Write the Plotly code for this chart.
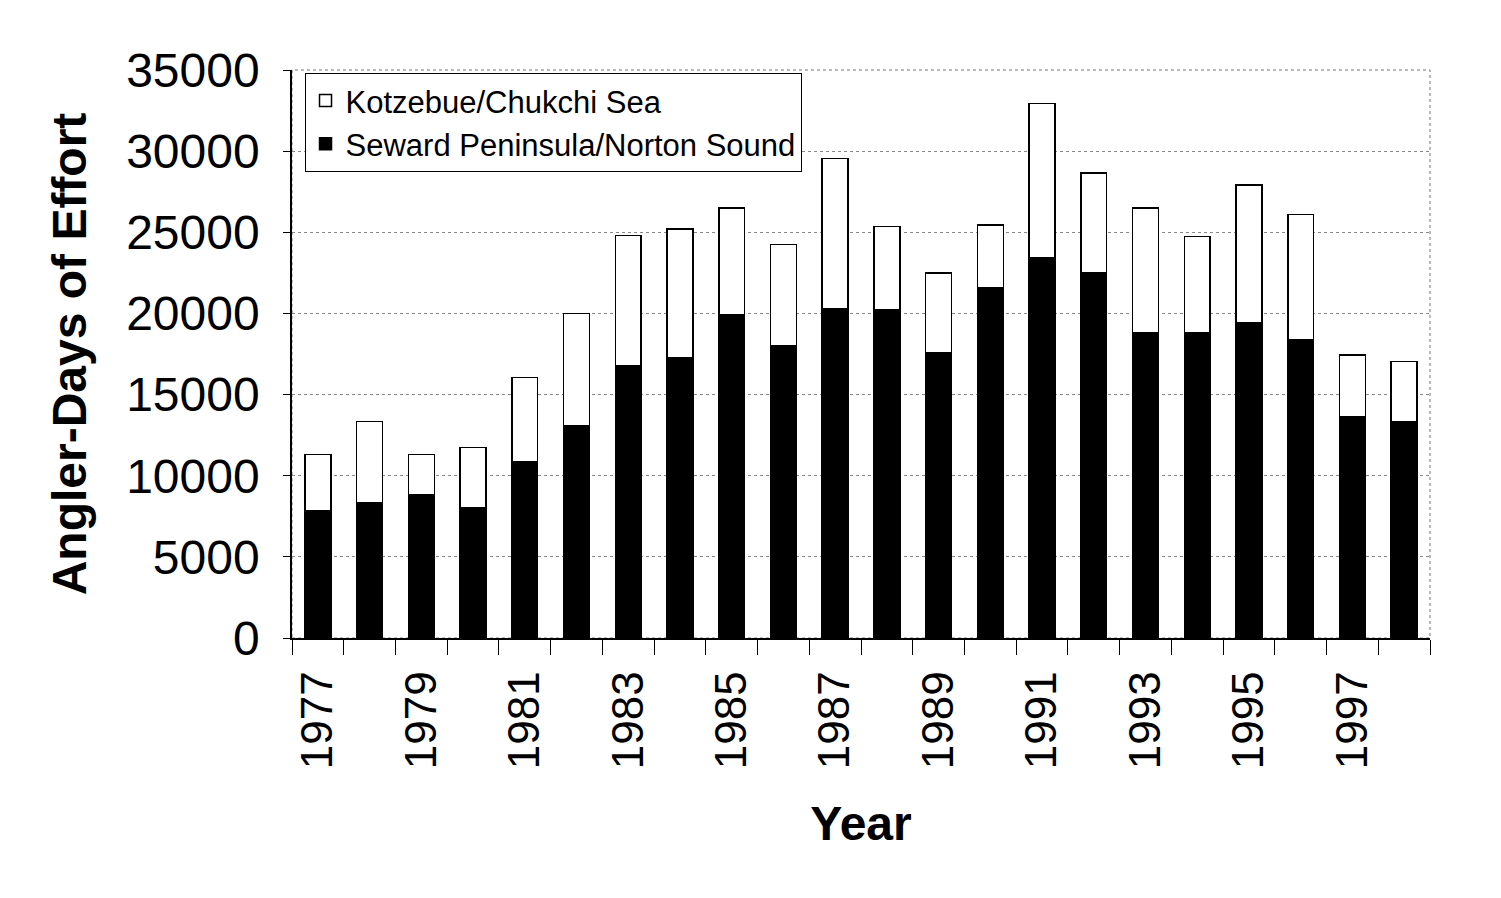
import plotly.graph_objects as go

years = list(range(1977, 1999))
seward = [7850, 8350, 8800, 8000, 10850, 13100, 16800, 17300, 19900, 18000, 20300,
          20200, 17600, 21600, 23450, 22500, 18800, 18800, 19400, 18400, 13650, 13300]
total = [11300, 13350, 11300, 11750, 16050, 20000, 24800, 25200, 26500, 24250, 29550,
         25350, 22500, 25450, 32950, 28650, 26500, 24750, 27900, 26100, 17450, 17050]
kotzebue = [t - s for t, s in zip(total, seward)]
tick_years = list(range(1977, 1999, 2))

FONT = "Arial, Liberation Sans, sans-serif"

fig = go.Figure()
fig.add_trace(go.Bar(x=years, y=seward, name="Seward Peninsula/Norton Sound",
                     marker=dict(color="black", line=dict(color="black", width=1.5))))
fig.add_trace(go.Bar(x=years, y=kotzebue, name="Kotzebue/Chukchi Sea",
                     marker=dict(color="white", line=dict(color="black", width=1.5))))

fig.update_layout(
    barmode="stack",
    bargap=0.5,
    width=1501, height=898,
    margin=dict(l=284, r=79, t=62, b=268, autoexpand=False),
    paper_bgcolor="white", plot_bgcolor="white",
    font=dict(family=FONT, color="black"),
    legend=dict(x=0.011, y=0.995, xanchor="left", yanchor="top",
                traceorder="reversed", bgcolor="white",
                bordercolor="black", borderwidth=1,
                font=dict(size=31, family=FONT), itemwidth=30),
    showlegend=True,
)
fig.update_xaxes(
    range=[1976.5, 1998.5],
    tickmode="array", tickvals=tick_years, ticktext=[str(y) for y in tick_years],
    tickangle=-90, tickfont=dict(size=44, family=FONT),
    ticks="", ticklabelstandoff=14,
    minor=dict(tick0=1976.5, dtick=1, ticks="outside", ticklen=15, tickcolor="black", showgrid=False),
    showline=True, linecolor="black", linewidth=1.5,
    showgrid=False, zeroline=False, automargin=False,
    title=dict(text="<b>Year</b>", font=dict(size=48, family=FONT), standoff=38),
)
fig.update_yaxes(
    range=[0, 35000], dtick=5000, tickformat="d",
    tickfont=dict(size=48, family=FONT),
    ticks="outside", ticklen=7, tickcolor="black", ticklabelstandoff=14,
    showline=True, linecolor="black", linewidth=1.5,
    showgrid=True, gridcolor="#888888", griddash="dot", gridwidth=1,
    zeroline=False, automargin=False,
    title=dict(text="<b>Angler-Days of Effort</b>", font=dict(size=48, family=FONT), standoff=24),
)
fig.add_shape(type="rect", xref="paper", yref="paper", x0=0, x1=1, y0=0, y1=1,
              line=dict(color="#777777", width=1, dash="dot"), layer="below")

fig.write_html("out.html")
